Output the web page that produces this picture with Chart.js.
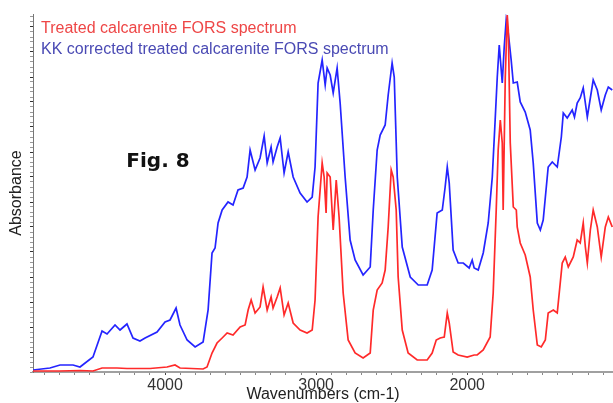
<!DOCTYPE html>
<html>
<head>
<meta charset="utf-8">
<script src="https://cdn.jsdelivr.net/npm/chart.js@4/dist/chart.umd.min.js"></script>
<style>
  html, body { margin: 0; padding: 0; background: #fff; }
  canvas { display: block; }
</style>
</head>
<body>
<canvas id="spectra" width="613" height="403"></canvas>
<script>
// FORS spectra of treated calcarenite (wavenumber in cm-1, absorbance in a.u.)
const wnRaw = [4874, 4700, 4560, 4477, 4417, 4318, 4252, 4099, 3987, 3934, 3901, 3748, 3722, 3689, 3656, 3622, 3589,
  3550, 3503, 3470, 3450, 3430, 3404, 3371, 3351, 3324, 3298, 3285, 3258, 3238, 3212, 3185, 3152, 3106,
  3060, 3026, 3007, 2987, 2960, 2947, 2934, 2927, 2907, 2887, 2867, 2848, 2821, 2788, 2742, 2689, 2642,
  2622, 2596, 2563, 2543, 2523, 2503, 2490, 2470, 2457, 2430, 2391, 2331, 2265, 2232, 2205, 2179, 2152,
  2132, 2119, 2093, 2060, 2000, 1954, 1934, 1894, 1848, 1828, 1808, 1795, 1781, 1768, 1762, 1748, 1735,
  1728, 1715, 1695, 1675, 1669, 1649, 1616, 1583, 1563, 1536, 1510, 1483, 1464, 1430, 1404, 1371, 1351,
  1331, 1298, 1272, 1252, 1232, 1218, 1205, 1185, 1166, 1139, 1113, 1086, 1066, 1040]
const absRaw = [0.01, 0.01, 0.015, 0.01, 0.04, 0.04, 0.035, 0.035, 0.05, 0.07, 0.04, 0.03, 0.05, 0.19, 0.29, 0.34, 0.39,
  0.37, 0.45, 0.47, 0.62, 0.72, 0.59, 0.65, 0.85, 0.62, 0.75, 0.64, 0.75, 0.84, 0.57, 0.69, 0.49, 0.42,
  0.39, 0.42, 0.72, 1.55, 2.09, 1.95, 1.59, 1.99, 1.95, 1.42, 1.92, 1.55, 0.79, 0.32, 0.19, 0.14, 0.19,
  0.62, 0.82, 0.89, 1.02, 1.45, 2.02, 1.95, 1.62, 0.95, 0.42, 0.19, 0.12, 0.12, 0.19, 0.32, 0.34, 0.35,
  0.59, 0.49, 0.20, 0.17, 0.15, 0.17, 0.17, 0.22, 0.35, 0.79, 1.62, 2.22, 2.52, 2.29, 1.62, 2.95, 3.57,
  3.42, 2.29, 1.65, 1.62, 1.45, 1.29, 1.17, 0.95, 0.62, 0.27, 0.25, 0.32, 0.59, 0.62, 0.59, 1.09, 1.15,
  1.05, 1.15, 1.32, 1.29, 1.49, 1.25, 1.09, 1.42, 1.62, 1.45, 1.15, 1.45, 1.55, 1.45]

// Kramers-Kronig corrected spectrum
const wnKK = [4874, 4762, 4695, 4609, 4563, 4477, 4417, 4384, 4331, 4298, 4252, 4212, 4166, 4132, 4053,
  4000, 3967, 3927, 3901, 3854, 3801, 3748, 3715, 3689, 3669, 3649, 3622, 3583, 3550, 3517, 3483, 3457,
  3437, 3404, 3371, 3344, 3324, 3298, 3285, 3258, 3238, 3212, 3185, 3152, 3106, 3060, 3026, 3007, 2987,
  2960, 2940, 2927, 2907, 2887, 2861, 2841, 2808, 2775, 2742, 2689, 2642, 2622, 2596, 2576, 2543, 2523,
  2497, 2483, 2463, 2430, 2377, 2324, 2265, 2232, 2199, 2165, 2146, 2132, 2119, 2093, 2060, 2026, 1987,
  1967, 1954, 1927, 1894, 1861, 1834, 1815, 1801, 1788, 1768, 1755, 1742, 1728, 1709, 1695, 1669, 1649, 1616,
  1583, 1563, 1536, 1516, 1497, 1464, 1437, 1404, 1377, 1364, 1338, 1305, 1290, 1272, 1252, 1232, 1205, 1166,
  1139, 1113, 1086, 1066, 1040]
const absKK = [0.02, 0.04, 0.07, 0.07, 0.05, 0.15, 0.41, 0.38, 0.47, 0.42, 0.48, 0.34, 0.31, 0.34, 0.40,
  0.50, 0.52, 0.64, 0.47, 0.32, 0.25, 0.30, 0.62, 1.19, 1.24, 1.49, 1.62, 1.70, 1.67, 1.82, 1.84, 1.95,
  2.22, 2.02, 2.14, 2.36, 2.09, 2.25, 2.10, 2.25, 2.34, 1.99, 2.20, 1.95, 1.79, 1.70, 1.75, 2.05, 2.89,
  3.12, 2.87, 3.04, 2.97, 2.79, 3.04, 2.69, 1.95, 1.32, 1.12, 0.97, 1.05, 1.62, 2.22, 2.37, 2.47, 2.77,
  3.09, 2.95, 1.95, 1.25, 0.95, 0.87, 0.87, 1.02, 1.59, 1.62, 1.85, 2.05, 1.89, 1.22, 1.09, 1.09, 1.04,
  1.12, 1.04, 1.02, 1.19, 1.49, 1.95, 2.52, 2.95, 3.27, 2.89, 3.25, 3.52, 3.39, 3.12, 2.89, 2.90, 2.70, 2.60,
  2.42, 2.09, 1.49, 1.42, 1.52, 2.05, 2.10, 2.05, 2.35, 2.59, 2.54, 2.62, 2.55, 2.69, 2.74, 2.84, 2.55, 2.92,
  2.82, 2.62, 2.77, 2.85, 2.82]

const xLabels = [4000, 3000, 2000]
const seriesNames = ['Treated calcarenite FORS spectrum', 'KK corrected treated calcarenite FORS spectrum']

const toPoints = (xs, ys) => xs.map((x, i) => ({ x: x, y: ys[i] }))

// legend text and figure number written straight on the canvas
const annotations = {
  id: 'annotations',
  afterDraw(chart) {
    const ctx = chart.ctx
    ctx.save()
    ctx.textBaseline = 'middle'
    ctx.textAlign = 'left'
    ctx.font = '16px "Liberation Sans", Arial, sans-serif'
    ctx.fillStyle = '#ee4646'
    ctx.fillText(seriesNames[0], 41, 29)
    ctx.fillStyle = '#4a4ab4'
    ctx.fillText(seriesNames[1], 41, 50)
    ctx.font = 'bold 20px "DejaVu Sans", sans-serif'
    ctx.fillStyle = '#111'
    ctx.textAlign = 'center'
    ctx.fillText('Fig. 8', 158, 162)
    ctx.restore()
  }
}

const ctx = document.getElementById('spectra').getContext('2d')
const chart = new Chart(ctx, {
  type: 'line',
  data: {
    datasets: [
      {
        label: seriesNames[0],
        data: toPoints(wnRaw, absRaw),
        borderColor: '#ff2a2a',
        borderWidth: 1.7,
        pointRadius: 0,
        order: 0
      },
      {
        label: seriesNames[1],
        data: toPoints(wnKK, absKK),
        borderColor: '#2424ff',
        borderWidth: 1.7,
        pointRadius: 0,
        order: 1
      }
    ]
  },
  options: {
    responsive: false,
    animation: false,
    devicePixelRatio: 1,
    layout: { padding: { top: 14, right: 0, left: 0, bottom: 0 } },
    plugins: { legend: { display: false }, tooltip: { enabled: false } },
    scales: {
      x: {
        type: 'linear',
        reverse: true,
        min: 1035,
        max: 4874,
        afterBuildTicks: (scale) => {
          const t = []
          for (let v = 1100; v <= 4800; v += 100) t.push({ value: v })
          scale.ticks = t
        },
        afterFit: (scale) => { scale.height = 31 },
        border: { color: '#a0a0a0', width: 2 },
        grid: {
          drawOnChartArea: false,
          tickLength: 3,
          tickColor: (c) => (c.tick && c.tick.value % 1000 === 0) ? '#444' : '#888'
        },
        ticks: {
          autoSkip: false,
          maxRotation: 0,
          padding: 1,
          color: '#333',
          font: { family: '"Liberation Sans", Arial, sans-serif', size: 16 },
          callback: (v) => xLabels.includes(v) ? String(v) : ''
        },
        title: {
          display: true,
          text: 'Wavenumbers (cm-1)',
          color: '#222',
          padding: 0,
          font: { family: '"Liberation Sans", Arial, sans-serif', size: 16, lineHeight: 1 }
        }
      },
      y: {
        type: 'linear',
        min: 0,
        max: 3.58,
        afterBuildTicks: (scale) => {
          const t = []
          for (let i = 0; i <= 71; i++) t.push({ value: i * 0.05 })
          scale.ticks = t
        },
        afterFit: (scale) => { scale.width = 33 },
        border: { color: '#777', width: 1 },
        grid: {
          drawOnChartArea: false,
          tickLength: 3,
          tickColor: (c) => (c.index % 5 === 4) ? '#333' : '#999'
        },
        ticks: { display: false },
        title: {
          display: true,
          text: 'Absorbance',
          color: '#222',
          padding: { top: 9, bottom: 0 },
          font: { family: '"Liberation Sans", Arial, sans-serif', size: 16, lineHeight: 1 }
        }
      }
    }
  },
  plugins: [annotations]
})
</script>
</body>
</html>
